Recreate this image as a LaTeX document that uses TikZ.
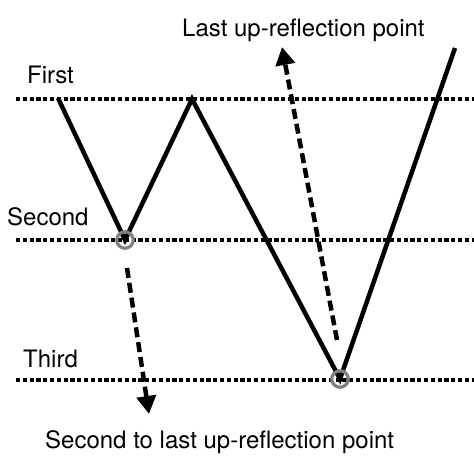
\documentclass[tikz,border=0pt]{standalone}
\usepackage{fontspec}
\setmainfont{TeX Gyre Heros}
\usetikzlibrary{arrows.meta}
\definecolor{ringgray}{RGB}{128,128,128}
\begin{document}
\begin{tikzpicture}[x=1pt,y=-1pt,
  lvl/.style={line width=4pt,dash pattern=on 4.2pt off 2.6pt},
  path/.style={line width=4.5pt,line join=miter},
  ring/.style={circle,draw=ringgray,line width=3.2pt,minimum size=16.5pt,inner sep=0pt},
  darrow/.style={line width=4.5pt,dash pattern=on 10pt off 5pt,-{Triangle[width=19pt,length=18pt]}},
  lbl/.style={anchor=base west,inner sep=0pt,font=\fontsize{24pt}{28pt}\selectfont}
]
\useasboundingbox (0,0) rectangle (474,460);
% levels
\coordinate (f0) at (16,99);  \coordinate (f1) at (474,99);
\coordinate (s0) at (16,240); \coordinate (s1) at (474,240);
\coordinate (t0) at (16,380); \coordinate (t1) at (474,380);
\draw[lvl] (f0) -- (f1);
\draw[lvl] (s0) -- (s1);
\draw[lvl] (t0) -- (t1);
% labels
\node[lbl] (lfirst) at (27,84) {First};
\node[lbl] (lsecond) at (7,225) {Second};
\node[lbl] (lthird) at (23,367) {Third};
\node[lbl] (llast) at (182,37) {Last up-reflection point};
\node[lbl] (lsec) at (45,448) {Second to last up-reflection point};
% path
\coordinate (p0) at (58,98);
\coordinate (p1) at (125,240);
\coordinate (p2) at (192,99);
\coordinate (p3) at (340,379);
\coordinate (p4) at (455,48);
\draw[path] (p0) -- (p1) -- (p2) -- (p3) -- (p4);
% rings
\node[ring] (r1) at (p1) {};
\node[ring] (r2) at (p3) {};
% arrows
\coordinate (a1s) at (127,268);
\coordinate (a1e) at (149,414);
\coordinate (a2s) at (337,340);
\coordinate (a2e) at (282,47);
\draw[darrow] (a1s) -- (a1e);
\draw[darrow] (a2s) -- (a2e);
\end{tikzpicture}
\end{document}
